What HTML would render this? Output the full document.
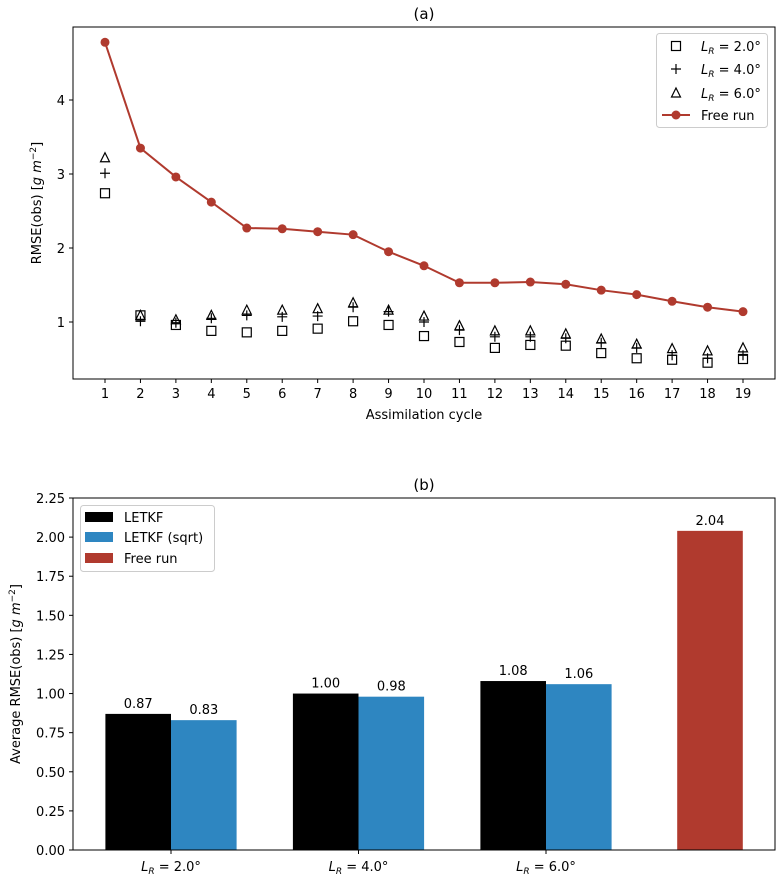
<!DOCTYPE html>
<html><head><meta charset="utf-8"><style>
body{margin:0;background:#fff;}
svg{display:block;font-family:"DejaVu Sans","Liberation Sans",sans-serif;}
</style></head><body>
<svg id="c" width="784" height="880"></svg>
<script>
const cycles=[1,2,3,4,5,6,7,8,9,10,11,12,13,14,15,16,17,18,19];
const freeRun=[4.78,3.35,2.96,2.62,2.27,2.26,2.22,2.18,1.95,1.76,1.53,1.53,1.54,1.51,1.43,1.37,1.28,1.20,1.14];
const lr2=[2.74,1.09,0.96,0.88,0.86,0.88,0.91,1.01,0.96,0.81,0.73,0.65,0.69,0.68,0.58,0.51,0.49,0.45,0.50];
const lr4=[3.01,1.01,0.99,1.05,1.09,1.07,1.08,1.20,1.14,1.00,0.89,0.80,0.80,0.78,0.72,0.65,0.55,0.51,0.55];
const lr6=[3.22,1.09,1.03,1.09,1.16,1.16,1.18,1.26,1.16,1.08,0.95,0.88,0.88,0.84,0.77,0.70,0.64,0.61,0.65];
const yTicksA=[1,2,3,4];
const groups=["L_R = 2.0°","L_R = 4.0°","L_R = 6.0°"];
const letkf=[0.87,1.00,1.08];
const letkfSqrt=[0.83,0.98,1.06];
const freeAvg=[2.04];
const yTicksB=[0,0.25,0.5,0.75,1.0,1.25,1.5,1.75,2.0,2.25];

const svg=document.getElementById('c');const NS='http://www.w3.org/2000/svg';
function el(t,a,p){const e=document.createElementNS(NS,t);for(const k in a)e.setAttribute(k,a[k]);(p||svg).appendChild(e);return e;}
function txt(s,a,p){const e=el('text',a,p);e.textContent=s;return e;}
const RED='#b03a2e',BLUE='#2e86c1';

// ---- Panel A
const gA=el('g',{});
const xA=v=>105+(v-1)*(743-105)/18, yA=v=>396-v*74;
txt('(a)',{x:424,y:19,'text-anchor':'middle','font-size':15},gA);
cycles.forEach(c=>{el('line',{x1:xA(c),x2:xA(c),y1:379,y2:383,stroke:'#000'},gA);txt(String(c),{x:xA(c),y:398,'text-anchor':'middle','font-size':13},gA);});
yTicksA.forEach(v=>{el('line',{x1:69,x2:73,y1:yA(v),y2:yA(v),stroke:'#000'},gA);txt(String(v),{x:65,y:yA(v)+5,'text-anchor':'end','font-size':13},gA);});
txt('Assimilation cycle',{x:424,y:419,'text-anchor':'middle','font-size':13},gA);
const ya=txt('',{transform:'translate(41,203) rotate(-90)','text-anchor':'middle','font-size':13},gA);
ya.innerHTML='RMSE(obs) [<tspan font-style="italic">g m</tspan><tspan dy="-5" font-size="9">−2</tspan><tspan dy="5">]</tspan>';
let d='';cycles.forEach((c,i)=>{d+=(i?'L':'M')+xA(c)+','+yA(freeRun[i]);});
const fl=el('path',{d:d,fill:'none',stroke:RED,'stroke-width':2},gA);
cycles.forEach((c,i)=>{
 const x=xA(c);
 const s=el('rect',{x:x-4.5,y:yA(lr2[i])-4.5,width:9,height:9,fill:'none',stroke:'#000','stroke-width':1.2},gA);
 const y4=yA(lr4[i]);
 const p=el('path',{d:`M${x-5},${y4}H${x+5}M${x},${y4-5}V${y4+5}`,stroke:'#000','stroke-width':1.2},gA);
 const y6=yA(lr6[i]);
 const t=el('path',{d:`M${x},${y6-5}L${x+4.5},${y6+4}L${x-4.5},${y6+4}Z`,fill:'none',stroke:'#000','stroke-width':1.2},gA);
 const f=el('circle',{cx:x,cy:yA(freeRun[i]),r:4.5,fill:RED},gA);
});
el('rect',{x:73,y:27,width:702,height:352,fill:'none',stroke:'#000','stroke-width':1},gA);
// legend A
const lA=el('g',{});
el('rect',{x:656.5,y:33.5,width:111,height:94,rx:3,fill:'#fff',stroke:'#ccc'},lA);
el('rect',{x:671.5,y:41.5,width:9,height:9,fill:'none',stroke:'#000','stroke-width':1.2},lA);
el('path',{d:'M671,69H681M676,64V74',stroke:'#000','stroke-width':1.2},lA);
el('path',{d:'M676,88L680.5,97L671.5,97Z',fill:'none',stroke:'#000','stroke-width':1.2},lA);
el('line',{x1:662,x2:690,y1:115,y2:115,stroke:RED,'stroke-width':2},lA);el('circle',{cx:676,cy:115,r:4.5,fill:RED},lA);
[['2.0',51],['4.0',74],['6.0',98]].forEach(([v,y])=>{const t=txt('',{x:701,y:y,'font-size':13},lA);t.innerHTML=`<tspan font-style="italic">L</tspan><tspan font-style="italic" font-size="9" dy="3">R</tspan><tspan dy="-3"> = ${v}°</tspan>`;});
txt('Free run',{x:701,y:120,'font-size':13},lA);

// ---- Panel B
const gB=el('g',{});
const yB=v=>850-v*(850-498)/2.25;
const xG=i=>171+i*187.5, bw=65.6;
txt('(b)',{x:424,y:490,'text-anchor':'middle','font-size':15},gB);
yTicksB.forEach(v=>{el('line',{x1:69,x2:73,y1:yB(v),y2:yB(v),stroke:'#000'},gB);txt(v.toFixed(2),{x:65,y:yB(v)+5,'text-anchor':'end','font-size':13},gB);});
const yb=txt('',{transform:'translate(20,674) rotate(-90)','text-anchor':'middle','font-size':13},gB);
yb.innerHTML='Average RMSE(obs) [<tspan font-style="italic">g m</tspan><tspan dy="-5" font-size="9">−2</tspan><tspan dy="5">]</tspan>';
function bar(x,v,col,name){const r=el('rect',{x:x,y:yB(v),width:bw,height:850-yB(v),fill:col},gB);txt(v.toFixed(2),{x:x+bw/2,y:yB(v)-6,'text-anchor':'middle','font-size':13},gB);}
groups.forEach((g,i)=>{
 bar(xG(i)-bw,letkf[i],'#000','bar-letkf');
 bar(xG(i),letkfSqrt[i],BLUE,'bar-letkf-sqrt');
 el('line',{x1:xG(i),x2:xG(i),y1:850,y2:854,stroke:'#000'},gB);
 const v=g.split('= ')[1];
 const t=txt('',{x:xG(i),y:871,'text-anchor':'middle','font-size':13},gB);
 t.innerHTML=`<tspan font-style="italic">L</tspan><tspan font-style="italic" font-size="9" dy="3">R</tspan><tspan dy="-3"> = ${v}</tspan>`;
});
bar(xG(3)-23.5-bw/2,freeAvg[0],RED,'bar-free-run');
el('rect',{x:73,y:498,width:702,height:352,fill:'none',stroke:'#000','stroke-width':1},gB);
const lB=el('g',{});
el('rect',{x:80.5,y:505.5,width:134,height:66,rx:3,fill:'#fff',stroke:'#ccc'},lB);
[['LETKF','#000',517],['LETKF (sqrt)',BLUE,537],['Free run',RED,558]].forEach(([s,c,y])=>{el('rect',{x:85,y:y-5,width:28,height:10,fill:c},lB);txt(s,{x:124,y:y+5,'font-size':13},lB);});
</script>
</body></html>
